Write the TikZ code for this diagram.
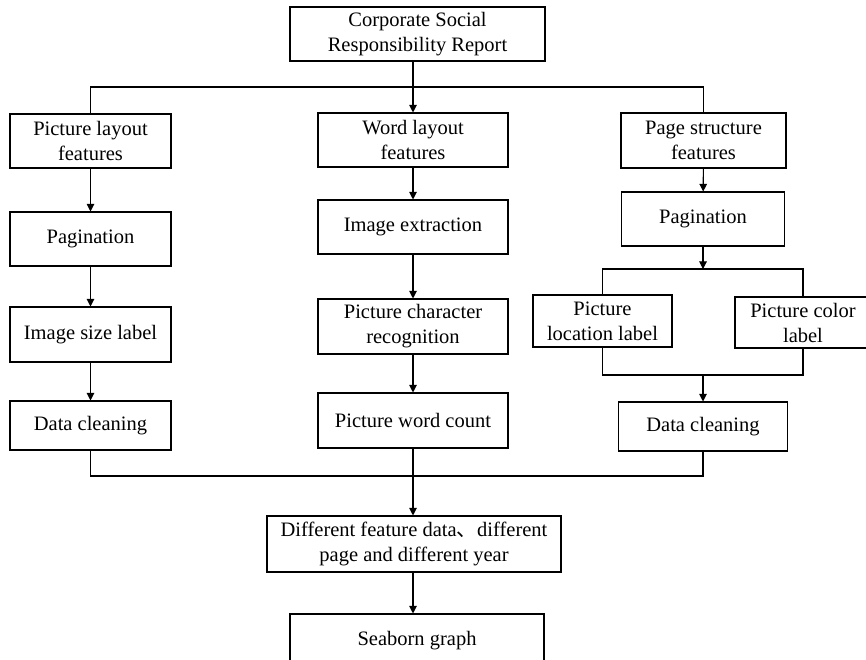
\documentclass[tikz,border=0pt]{standalone}
\usepackage{fontspec}
\setmainfont{Liberation Serif}
\newfontfamily\cjkfont{Noto Sans CJK SC}
\usetikzlibrary{arrows.meta}

\begin{document}
\begin{tikzpicture}[x=0.03cm,y=-0.03cm,
  box/.style={draw,line width=0.9pt,align=center,inner sep=0pt,
    font=\fontsize{17.5}{21.3}\selectfont},
  flow/.style={line width=0.9pt,-{Triangle[length=6.5pt,width=6.5pt]}},
  bus/.style={line width=0.9pt}]
\useasboundingbox (0,0) rectangle (866,659);
% top
\node[box,minimum width=7.65cm,minimum height=1.62cm] (csr) at (417.5,34) {Corporate Social\\Responsibility Report};
% three branches
\node[box,minimum width=4.83cm,minimum height=1.62cm] (plf) at (90.5,141) {Picture layout\\features};
\node[box,minimum width=5.7cm,minimum height=1.62cm] (wlf) at (413,140) {Word layout\\features};
\node[box,minimum width=4.95cm,minimum height=1.65cm] (psf) at (703.5,140.5) {Page structure\\features};
% left column
\node[box,minimum width=4.83cm,minimum height=1.62cm] (lpag) at (90.5,239) {Pagination};
\node[box,minimum width=4.83cm,minimum height=1.65cm] (lsize) at (90.5,334.5) {Image size label};
\node[box,minimum width=4.83cm,minimum height=1.47cm] (lclean) at (90.5,425.5) {Data cleaning};
% middle column
\node[box,minimum width=5.7cm,minimum height=1.62cm] (mext) at (413,227) {Image extraction};
\node[box,minimum width=5.7cm,minimum height=1.65cm] (mrec) at (413,326.5) {Picture character\\recognition};
\node[box,minimum width=5.7cm,minimum height=1.65cm] (mcount) at (413,420.5) {Picture word count};
% right column
\node[box,minimum width=4.89cm,minimum height=1.62cm] (rpag) at (703,219) {Pagination};
\node[box,minimum width=4.17cm,minimum height=1.56cm] (rloc) at (602.5,321) {Picture\\location label};
\node[box,minimum width=4.08cm,minimum height=1.53cm] (rcol) at (803,322.5) {Picture color\\label};
\node[box,minimum width=5.07cm,minimum height=1.47cm] (rclean) at (703,426.5) {Data cleaning};
% bottom
\node[box,minimum width=8.82cm,minimum height=1.68cm] (diff) at (414,544) {Different feature data{\cjkfont 、}different\\page and different year};
\node[box,minimum width=7.62cm,minimum height=1.62cm] (sea) at (417,641) {Seaborn graph};

\coordinate (topbus) at (413,87);
\coordinate (rsplit) at (703,269);
\coordinate (rjoin) at (703,375);
\coordinate (botbus) at (413,476);

\draw[flow] (csr.south -| wlf.north) -- (wlf);
\draw[bus] (plf.north) |- (topbus) -| (psf.north);

\draw[flow] (plf) -- (lpag);
\draw[flow] (lpag) -- (lsize);
\draw[flow] (lsize) -- (lclean);

\draw[flow] (wlf) -- (mext);
\draw[flow] (mext) -- (mrec);
\draw[flow] (mrec) -- (mcount);

\draw[flow] (psf) -- (rpag);
\draw[flow] (rpag) -- (rsplit);
\draw[bus] (rloc.north) |- (rsplit) -| (rcol.north);
\draw[bus] (rloc.south) |- (rjoin) -| (rcol.south);
\draw[flow] (rjoin) -- (rclean);

\draw[bus] (lclean.south) |- (botbus) -| (rclean.south);
\draw[flow] (mcount) -- (mcount |- diff.north);
\draw[flow] (mcount |- diff.south) -- (mcount |- sea.north);
\end{tikzpicture}
\end{document}
